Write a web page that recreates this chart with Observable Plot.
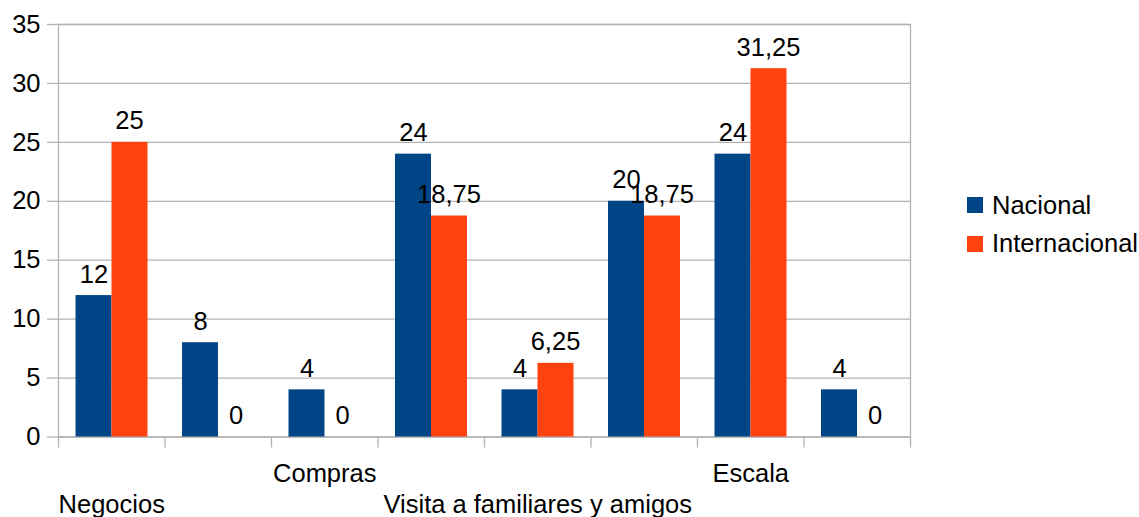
<!DOCTYPE html>
<html>
<head>
<meta charset="utf-8">
<script src="https://cdn.jsdelivr.net/npm/d3@7"></script>
<script src="https://cdn.jsdelivr.net/npm/@observablehq/plot@0.6"></script>
<style>
  html, body { margin: 0; padding: 0; background: #fff; }
  body { width: 1139px; height: 517px; position: relative; overflow: hidden; font-family: "Liberation Sans", Arial, sans-serif; }
  #chart { position: absolute; left: 0; top: 0; }
  #legend { position: absolute; left: 967px; top: 186px; font-size: 25.5px; color: #000; }
  .item { display: flex; align-items: center; height: 38.5px; }
  .sw { width: 16px; height: 16px; margin-right: 9px; }
</style>
</head>
<body>
<div id="chart"></div>
<div id="legend"></div>
<script>
// Data
const categories = ["Negocios", "", "Compras", "", "Visita a familiares y amigos", "", "Escala", ""];
const nacional = [12, 8, 4, 24, 4, 20, 24, 4];
const internacional = [25, 0, 0, 18.75, 6.25, 18.75, 31.25, 0];
const seriesNames = ["Nacional", "Internacional"];
const seriesColors = ["#004586", "#ff420e"];
const yTicks = [0, 5, 10, 15, 20, 25, 30, 35];
const upperLabels = [2, 6];   // indices shown on the upper label row
const lowerLabels = [0, 4];   // indices shown on the lower label row

const idx = d3.range(categories.length);
const rows = idx.flatMap(i => [
  {i, series: seriesNames[0], value: nacional[i]},
  {i, series: seriesNames[1], value: internacional[i]}
]);

const W = 925, H = 517, ML = 58, MR = W - 910, MT = 24, MB = H - 436.5;
const bw = (W - ML - MR) / categories.length;
const grid = "#b3b3b3";
const fmt = v => String(v).replace(".", ",");
const FS = 25.5;

const nacRows = rows.filter(d => d.series === seriesNames[0]);
const intRows = rows.filter(d => d.series === seriesNames[1]);

const chart = Plot.plot({
  width: W,
  height: H,
  marginLeft: ML,
  marginRight: MR,
  marginTop: MT,
  marginBottom: MB,
  style: {fontFamily: "Liberation Sans, Arial, sans-serif", fontSize: FS + "px", color: "#000", background: "#fff"},
  x: {type: "band", domain: idx, padding: 0, round: false, axis: null},
  y: {domain: [0, 35], ticks: yTicks, axis: null},
  color: {domain: seriesNames, range: seriesColors},
  marks: [
    Plot.gridY(yTicks, {stroke: grid, strokeOpacity: 1, strokeWidth: 1.3}),
    Plot.axisY(yTicks, {tickSize: 11, tickPadding: 7, stroke: grid, strokeWidth: 1.3, fontSize: FS, color: "#000", label: null}),
    Plot.frame({stroke: grid, strokeWidth: 1.3}),
    // category boundary ticks
    Plot.axisX(idx, {tickSize: 11, tickFormat: () => "", dx: -bw / 2, stroke: grid, strokeWidth: 1.3, label: null}),
    Plot.axisX([idx[idx.length - 1]], {tickSize: 11, tickFormat: () => "", dx: bw / 2, stroke: grid, strokeWidth: 1.3, label: null}),
    Plot.barY(nacRows, {x: "i", y: "value", fill: "series", insetLeft: 17.5, insetRight: 53}),
    Plot.barY(intRows, {x: "i", y: "value", fill: "series", insetLeft: 53.5, insetRight: 17}),
    Plot.text(nacRows, {x: "i", y: "value", text: d => fmt(d.value), dx: -(bw / 2 - 35.5), dy: -13, lineAnchor: "bottom", fontSize: FS, fill: "#000"}),
    Plot.text(intRows, {x: "i", y: "value", text: d => fmt(d.value), dx: (bw / 2 - 35.5), dy: -13, lineAnchor: "bottom", fontSize: FS, fill: "#000"}),
    Plot.text(upperLabels, {x: d => d, text: d => categories[d], frameAnchor: "bottom", dy: 45, lineAnchor: "bottom", fontSize: FS, fill: "#000"}),
    Plot.text(lowerLabels, {x: d => d, text: d => categories[d], frameAnchor: "bottom", dy: 76, lineAnchor: "bottom", fontSize: FS, fill: "#000"})
  ]
});
document.getElementById("chart").appendChild(chart);

const legend = document.getElementById("legend");
seriesNames.forEach((name, k) => {
  const item = document.createElement("div");
  item.className = "item";
  const sw = document.createElement("div");
  sw.className = "sw";
  sw.style.background = seriesColors[k];
  const label = document.createElement("span");
  label.textContent = name;
  item.appendChild(sw);
  item.appendChild(label);
  legend.appendChild(item);
});
</script>
</body>
</html>
